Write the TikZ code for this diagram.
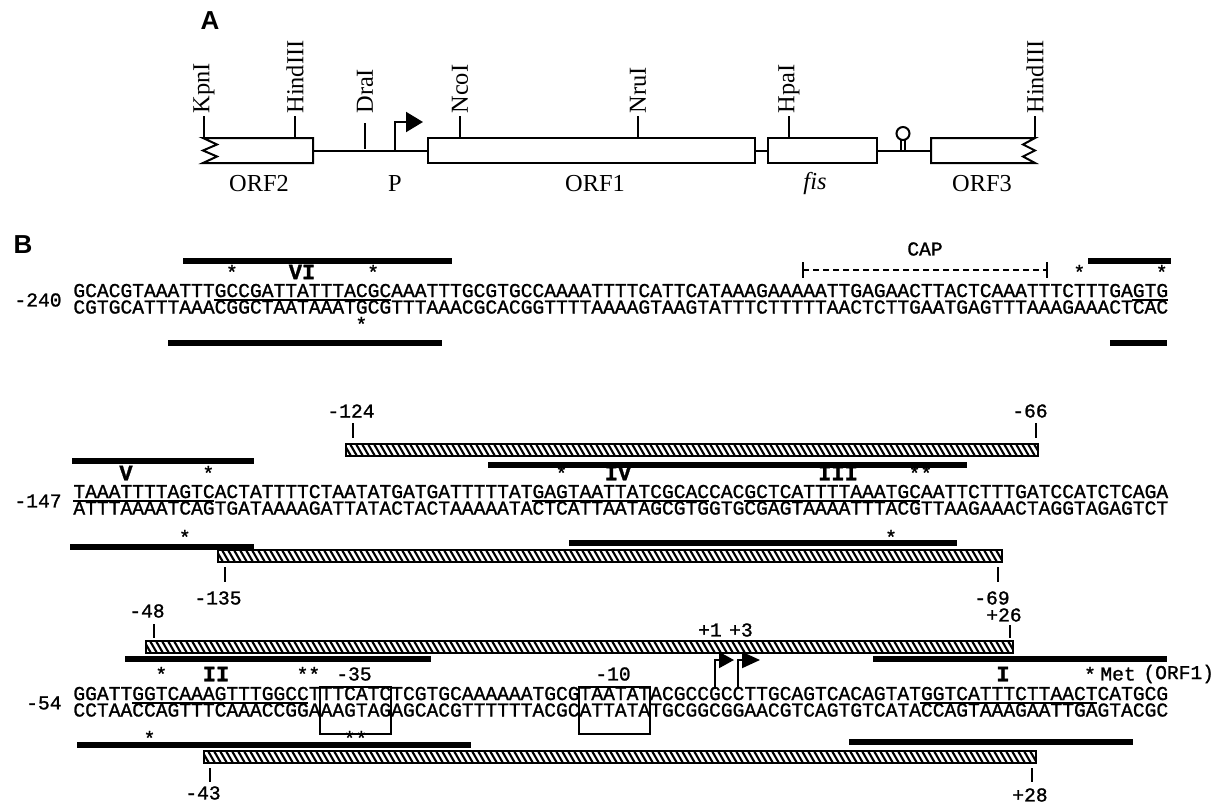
\documentclass[tikz,border=0pt]{standalone}
\usepackage{fontspec}
\setmainfont{Liberation Serif}
\newfontfamily\seqfont{Liberation Mono}[FakeBold=1.2]
\newfontfamily\panelfont{Liberation Sans}
\usetikzlibrary{arrows.meta}

% hatched protection bar: x from #1 to #2, top edge at #3
\newcommand\hatchbar[3]{%
  \fill[white] (#1,#3) rectangle (#2,#3+12);
  \begin{scope}
    \clip (#1,#3) rectangle (#2,#3+12);
    \pgfmathtruncatemacro\nhatch{(#2-#1)/6+3}
    \foreach \k in {0,...,\nhatch}
      \draw[line width=1.05pt] ({#1-8+\k*6},#3) -- ++(7,12);
  \end{scope}
  \draw[line width=1pt] (#1,#3) rectangle (#2,#3+12);
}

\tikzset{
  seq/.style={font=\seqfont\fontsize{9.81}{10}\selectfont,inner sep=0pt,anchor=base west},
  ann/.style={font=\seqfont\fontsize{9.81}{10}\selectfont,inner sep=0pt},
  roman/.style={font=\seqfont\bfseries\fontsize{11}{12}\selectfont,inner sep=0pt},
  maplabel/.style={font=\fontsize{12.2}{13}\selectfont,inner sep=0pt},
  sitelabel/.style={maplabel,rotate=90,anchor=west,inner sep=1pt},
  panel/.style={font=\panelfont\bfseries\fontsize{13}{15}\selectfont,inner sep=0pt},
  mapline/.style={line width=1pt},
  fisbar/.style={line width=2.6pt},
  siteline/.style={line width=0.75pt},
  boxline/.style={line width=1pt},
}

\begin{document}
\begin{tikzpicture}[x=0.5pt,y=-0.5pt]
\useasboundingbox (0,0) rectangle (1222,803);

% ---------------- A: map ----------------
\node[panel] (A) at (210,21) {A};

\draw[mapline] (203,138) -- (313,138) -- (313,163) -- (203,163) -- (217,156.5)
  -- (203,150.5) -- (217,144.5) -- cycle;
\draw[mapline] (428,138) rectangle (755,163);
\draw[mapline] (768,138) rectangle (877,163);
\draw[mapline] (1035,138) -- (931,138) -- (931,163) -- (1035,163) -- (1023,156.5)
  -- (1035,150.5) -- (1023,144.5) -- cycle;
\draw[mapline] (313,151) -- (428,151);
\draw[mapline] (755,151) -- (768,151);
\draw[mapline] (877,151) -- (931,151);

% restriction sites
\foreach \x/\y/\name in {204/138/KpnI, 295/138/HindIII, 460/138/NcoI,
    638/138/NruI, 789/138/HpaI, 1035/138/HindIII}{
  \node[sitelabel] (re\x) at (\x,116) {\name};
  \draw[mapline] (\x,\y) -- (re\x.west);
}
\node[sitelabel] (dra) at (365,116) {DraI};
\draw[mapline] (365,149) -- (365,123);

% promoter and terminator
\draw[mapline,-{Triangle[length=8.5pt,width=10pt]}] (395,151) |- (423,122);
\draw[mapline] (901,151) -- (901,140) (905,151) -- (905,140);
\draw[mapline] (903,133.5) circle[radius=3.25pt];

\node[maplabel] (orf2) at (259,184) {ORF2};
\node[maplabel] (p) at (395,184) {P};
\node[maplabel] (orf1) at (595,184) {ORF1};
\node[maplabel] (fis) at (815,184) {\itshape fis};
\node[maplabel] (orf3) at (982,184) {ORF3};

% ---------------- B: sequence ----------------
\node[panel] (B) at (23,245) {B};

\node[ann,anchor=east] (n240) at (62,300) {-240};
\node[seq] (s1t) at (73,297) {GCACGTAAATTTGCCGATTATTTACGCAAATTTGCGTGCCAAAATTTTCATTCATAAAGAAAAATTGAGAACTTACTCAAATTTCTTTGAGTG};
\node[seq] (s1b) at (73,313.5) {CGTGCATTTAAACGGCTAATAAATGCGTTTAAACGCACGGTTTTAAAAGTAAGTATTTCTTTTTAACTCTTGAATGAGTTTAAAGAAACTCAC};

\node[ann,anchor=east] (n147) at (62,501) {-147};
\node[seq] (s2t) at (73,498) {TAAATTTTAGTCACTATTTTCTAATATGATGATTTTTATGAGTAATTATCGCACCACGCTCATTTTAAATGCAATTCTTTGATCCATCTCAGA};
\node[seq] (s2b) at (73,514.5) {ATTTAAAATCAGTGATAAAAGATTATACTACTAAAAATACTCATTAATAGCGTGGTGCGAGTAAAATTTACGTTAAGAAACTAGGTAGAGTCT};

\node[ann,anchor=east] (n54) at (62,703) {-54};
\node[seq] (s3t) at (73,700) {GGATTGGTCAAAGTTTGGCCTTTCATCTCGTGCAAAAAATGCGTAATATACGCCGCCTTGCAGTCACAGTATGGTCATTTCTTAACTCATGCG};
\node[seq] (s3b) at (73,716.5) {CCTAACCAGTTTCAAACCGGAAAGTAGAGCACGTTTTTTACGCATTATATGCGGCGGAACGTCAGTGTCATACCAGTAAAGAATTGAGTACGC};

% Fis sites between the strands
\foreach \a/\b/\y in {12/27/300, 90/93/300, 0/12/501, 39/54/501,
    57/72/501, 5/20/703, 72/87/703}
  \draw[siteline] ({73+\a*11.77},\y) -- ({73+\b*11.77},\y);

% footprints
\foreach \xa/\xb/\y in {183/452/261, 1088/1171/261, 168/442/343, 1110/1167/343,
    72/254/461, 488/967/465, 70/254/547, 569/957/543,
    125/431/659, 873/1167/659, 77/471/745, 849/1133/742}
  \draw[fisbar] (\xa,\y) -- (\xb,\y);

\hatchbar{346}{1038}{444}
\hatchbar{218}{1002}{550}
\hatchbar{146}{1013}{641}
\hatchbar{204}{1036}{751}

% hypersensitive positions
\foreach \i/\y [count=\n] in {13/272, 25/272, 85/272, 92/272, 24/324,
    11/473, 41/473, 71/473, 72/473, 9/537, 69/537,
    7/674, 19/674, 20/674, 6/738, 23/738, 24/738}
  \node[ann] (star\n) at ({73+(\i+0.5)*11.77},\y) {*};

\node[roman] (VI) at (302,272) {VI};
\node[roman] (V) at (126,473) {V};
\node[roman] (IV) at (618,473) {IV};
\node[roman] (III) at (838,473) {III};
\node[roman] (II) at (216,674) {II};
\node[roman] (I) at (1003,674) {I};

% CAP site
\node[ann] (cap) at (925,249) {CAP};
\draw[line width=0.75pt,dash pattern=on 3pt off 2pt] (803,270) -- (1047,270);
\draw[line width=0.75pt] (803,262) -- (803,278) (1047,262) -- (1047,278);

% ends of the protected regions
\node[ann] (m124) at (351,411) {-124};
\draw[boxline] (353,423) -- (353,438);
\node[ann] (m66) at (1030,411) {-66};
\draw[boxline] (1036,423) -- (1036,438);
\draw[boxline] (225,567) -- (225,582);
\node[ann] (m135) at (218,598) {-135};
\draw[boxline] (998,567) -- (998,582);
\node[ann] (m69) at (992,598) {-69};
\node[ann] (p26) at (1004,615) {+26};
\draw[boxline] (1010,625) -- (1010,638);
\node[ann] (m48) at (147,611) {-48};
\draw[boxline] (154,624) -- (154,638);
\draw[boxline] (210,768) -- (210,782);
\node[ann] (m43) at (203,793) {-43};
\draw[boxline] (1032,768) -- (1032,782);
\node[ann] (p28) at (1030,795) {+28};

% promoter boxes and start sites
\draw[boxline] ({73+21*11.77},687) rectangle ({73+27*11.77},734);
\draw[boxline] ({73+43*11.77},687) rectangle ({73+49*11.77},734);
\node[ann] (m35) at (354,674) {-35};
\node[ann] (m10) at (613,674) {-10};
\node[ann] (p1) at (710,630) {+1};
\node[ann] (p3) at (741,630) {+3};
\draw[boxline,-{Triangle[length=7.5pt,width=8pt]}] (714.5,689) |- (734,660);
\draw[boxline,-{Triangle[length=9pt,width=8pt]}] (738,689) |- (760,660);

\node[ann] (met) at (1090,674) {*};
\node[ann,anchor=west] (metlab) at (1100,674) {Met};
\node[ann,anchor=west] (orf1lab) at (1143,674) {(ORF1)};
\end{tikzpicture}
\end{document}
